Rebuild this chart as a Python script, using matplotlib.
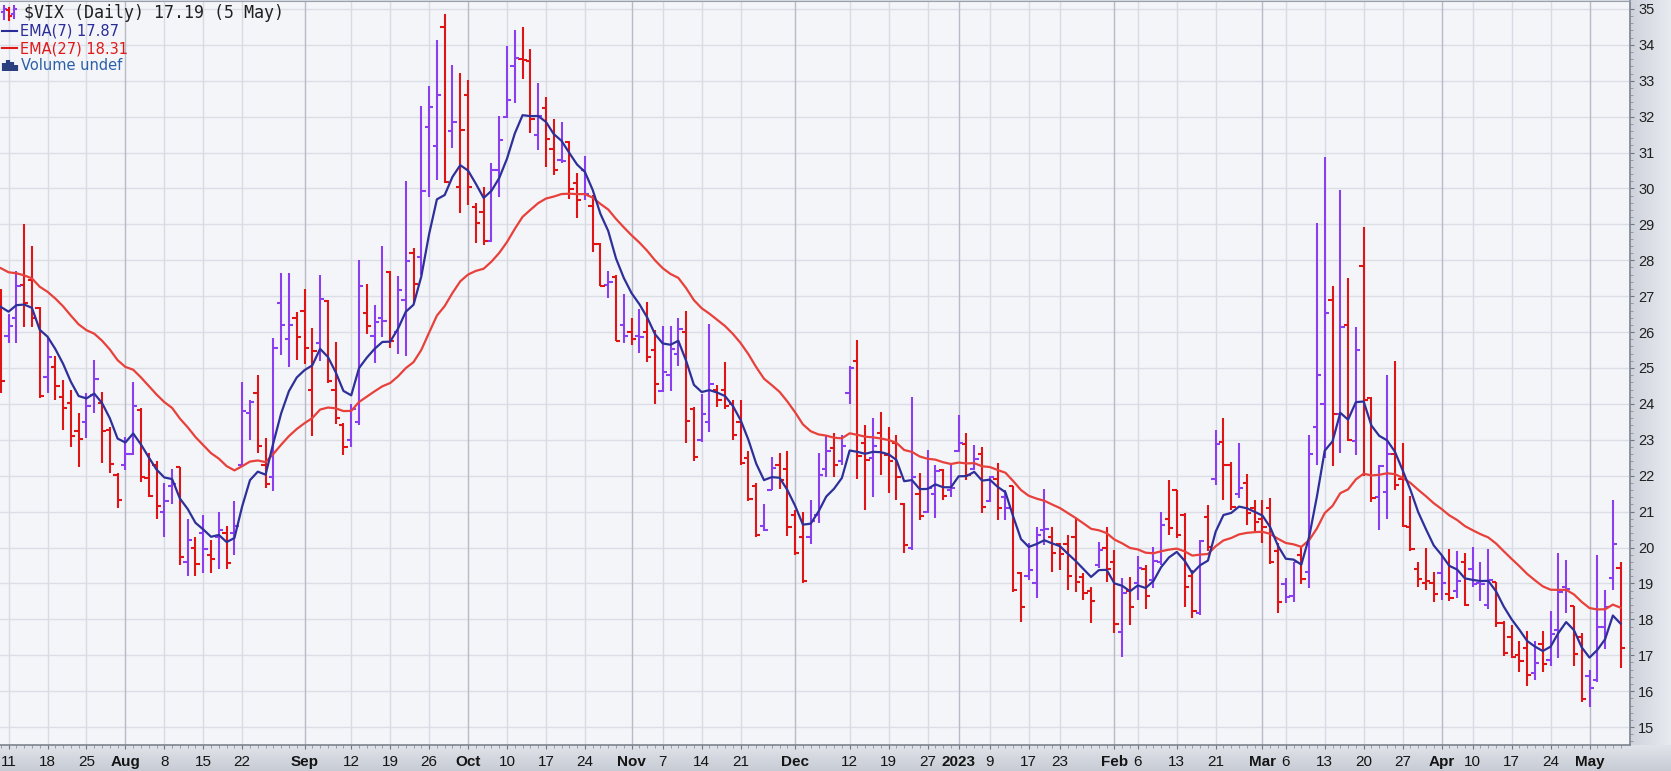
import matplotlib
matplotlib.use('Agg')
import matplotlib.pyplot as plt
import numpy as np
import pandas as pd
from matplotlib.lines import Line2D

# trading days 8 Jul 2022 .. 5 May 2023 (NYSE holidays removed)
holidays = ['2022-09-05', '2022-11-24', '2022-12-26', '2023-01-02',
            '2023-01-16', '2023-02-20', '2023-04-07']
dates = pd.bdate_range('2022-07-08', '2023-05-05')
dates = dates[~dates.isin(pd.to_datetime(holidays))]

prev_close = 26.1  # close before the first bar (sets its colour)

open_ = [26.6, 25.9, 26.4, 27.3, 27.45, 26.66, 24.76, 25.04, 24.2, 24.02,
         23.25, 23.5, 24.25, 24.02, 23.27, 22.02, 22.3, 22.6, 23.83, 21.93,
         22.3, 21.0, 21.7, 22.25, 19.6, 20.0, 20.4, 19.8, 20.3, 20.4,
         20.4, 22.3, 23.74, 24.31, 22.3, 21.97, 26.8, 25.8, 26.4, 26.6,
         24.4, 25.7, 26.86, 24.4, 23.4, 23.0, 23.5, 26.52, 25.9, 26.4,
         27.67, 26.0, 26.9, 28.2, 28.1, 31.72, 31.17, 34.5, 31.6, 30.05,
         32.6, 29.48, 29.33, 28.55, 30.5, 32.0, 33.4, 33.6, 33.56, 31.5,
         32.23, 31.09, 30.8, 31.28, 30.14, 30.5, 29.5, 28.44, 27.3, 27.54,
         26.2, 26.0, 25.9, 26.01, 25.5, 24.37, 24.8, 25.38, 26.0, 23.85,
         23.0, 23.5, 24.4, 24.4, 24.0, 23.5, 22.5, 21.7, 20.6, 21.6,
         22.3, 22.2, 20.9, 20.3, 20.3, 20.9, 22.2, 22.76, 22.4, 24.3,
         25.2, 22.9, 22.5, 23.2, 22.58, 22.9, 21.2, 20.0, 21.5, 21.0,
         21.5, 22.17, 21.6, 22.7, 22.88, 22.2, 22.6, 21.3, 21.9, 21.4,
         21.7, 19.28, 19.2, 19.0, 20.5, 20.3, 20.1, 20.1, 20.3, 19.19,
         18.8, 19.5, 20.0, 19.6, 17.66, 18.8, 19.0, 19.4, 19.09, 19.6,
         20.8, 21.6, 20.9, 19.2, 18.17, 20.86, 21.9, 22.95, 22.3, 21.5,
         21.8, 21.1, 20.8, 21.1, 19.9, 18.98, 18.66, 19.8, 19.31, 23.35,
         24.0, 26.9, 23.73, 26.19, 22.97, 27.83, 24.17, 21.4, 21.55, 22.6,
         21.9, 20.57, 19.4, 19.0, 19.0, 19.3, 18.7, 18.8, 19.6, 19.4,
         19.0, 18.4, 19.04, 17.9, 17.5, 17.0, 17.2, 16.5, 17.3, 16.86,
         17.7, 18.9, 18.38, 17.5, 16.42, 16.31, 17.78, 19.15, 19.42]
high = [27.2, 26.5, 27.7, 29.0, 28.4, 26.7, 25.87, 25.32, 24.67, 24.39,
        23.74, 24.3, 25.22, 24.34, 23.37, 22.07, 23.09, 24.62, 23.88, 22.62,
        22.4, 21.8, 22.2, 22.25, 20.8, 20.3, 20.9, 20.2, 21.0, 20.6,
        21.3, 24.6, 24.11, 24.8, 23.04, 25.83, 27.64, 27.64, 26.57, 27.2,
        26.1, 27.6, 26.9, 25.71, 23.47, 24.0, 28.0, 27.33, 26.76, 28.4,
        27.71, 27.57, 30.2, 28.33, 32.3, 32.86, 34.12, 34.87, 33.44, 33.22,
        33.02, 29.59, 30.05, 30.7, 32.02, 33.97, 34.41, 34.5, 33.88, 32.95,
        32.56, 31.93, 31.86, 31.31, 30.42, 30.89, 29.81, 28.49, 27.7, 27.59,
        27.07, 26.38, 26.64, 26.85, 26.06, 26.17, 26.17, 26.38, 26.6, 23.9,
        24.27, 26.22, 24.53, 25.17, 24.11, 24.11, 22.7, 21.8, 21.21, 22.53,
        22.64, 22.7, 21.05, 21.0, 21.32, 22.64, 23.1, 23.18, 23.13, 25.05,
        25.78, 23.41, 23.6, 23.78, 23.37, 23.13, 21.25, 24.2, 22.07, 22.72,
        22.3, 22.2, 22.34, 23.69, 23.18, 22.85, 22.81, 21.98, 22.34, 21.6,
        21.71, 19.33, 20.12, 20.58, 21.62, 20.58, 20.12, 20.35, 20.81, 19.28,
        18.91, 20.16, 20.58, 19.93, 19.14, 19.19, 19.75, 19.51, 20.02, 20.99,
        21.88, 21.6, 20.95, 19.37, 20.2, 21.18, 23.27, 23.6, 22.39, 22.91,
        22.04, 21.33, 21.33, 21.39, 20.13, 19.15, 19.6, 20.02, 23.13, 29.03,
        30.88, 27.28, 29.96, 27.5, 26.14, 28.92, 24.2, 22.31, 24.8, 25.2,
        22.91, 21.44, 19.6, 20.0, 19.31, 19.8, 19.97, 19.9, 19.86, 20.02,
        19.6, 19.97, 19.04, 17.95, 17.84, 17.4, 17.67, 17.4, 17.67, 18.22,
        19.86, 19.64, 18.38, 17.62, 16.58, 19.8, 18.82, 21.33, 19.59]
low = [24.3, 25.7, 25.7, 26.15, 26.15, 24.16, 24.3, 24.11, 23.27, 22.81,
       22.25, 23.04, 23.74, 22.35, 22.07, 21.1, 22.16, 22.58, 21.83, 21.4,
       20.8, 20.3, 21.2, 19.5, 19.2, 19.2, 19.3, 19.3, 19.4, 19.4,
       19.8, 22.3, 23.0, 22.62, 21.65, 21.56, 25.36, 25.04, 25.22, 25.1,
       23.1, 25.2, 24.57, 23.43, 22.57, 22.8, 23.4, 25.95, 25.14, 25.85,
       25.57, 25.38, 25.33, 26.8, 27.6, 29.77, 30.24, 30.16, 31.12, 29.31,
       29.54, 28.47, 28.43, 28.52, 29.77, 31.97, 32.37, 33.04, 31.54, 31.07,
       30.61, 30.38, 30.7, 29.7, 29.17, 29.68, 28.23, 27.28, 26.96, 25.75,
       25.69, 25.64, 25.43, 25.17, 24.0, 24.32, 24.37, 25.06, 22.9, 22.42,
       22.95, 23.21, 23.9, 23.85, 23.0, 22.3, 21.3, 20.3, 20.45, 21.6,
       21.63, 20.31, 19.8, 19.0, 20.1, 20.69, 21.95, 21.97, 22.3, 24.0,
       21.9, 21.04, 21.4, 22.02, 21.51, 21.32, 19.84, 19.93, 20.77, 20.95,
       20.81, 21.32, 21.4, 22.67, 21.88, 22.16, 20.95, 21.28, 20.77, 20.77,
       18.77, 17.93, 19.09, 18.58, 20.07, 19.33, 19.37, 18.82, 18.77, 18.54,
       17.89, 19.42, 19.05, 17.61, 16.96, 17.84, 18.54, 18.3, 18.86, 19.51,
       20.35, 20.26, 18.35, 18.03, 18.12, 19.9, 21.74, 21.32, 21.04, 21.39,
       20.62, 20.46, 20.13, 19.53, 18.17, 18.45, 18.49, 18.98, 18.88, 22.3,
       22.5, 22.26, 22.64, 22.97, 22.59, 22.0, 21.28, 20.5, 20.8, 21.6,
       20.57, 19.91, 18.9, 18.82, 18.49, 18.55, 18.5, 18.6, 18.38, 18.9,
       18.5, 18.28, 17.78, 16.97, 16.91, 16.53, 16.15, 16.31, 16.53, 16.69,
       16.91, 18.17, 16.69, 15.71, 15.55, 16.26, 17.18, 18.82, 16.64]
close = [24.64, 26.17, 27.29, 26.82, 26.40, 24.23, 25.30, 24.50, 23.88, 23.11,
         23.03, 23.95, 24.69, 23.24, 22.33, 21.33, 22.6, 23.93, 21.95, 21.44,
         21.15, 21.29, 21.77, 19.74, 20.20, 19.53, 19.95, 19.69, 20.50, 19.56,
         20.60, 23.80, 24.06, 22.82, 21.78, 25.56, 26.21, 26.21, 25.87, 25.56,
         25.47, 26.91, 24.64, 23.61, 22.79, 23.87, 27.27, 26.16, 26.27, 26.30,
         25.76, 27.16, 27.99, 27.35, 29.92, 32.26, 32.60, 30.18, 31.84, 31.62,
         30.05, 29.03, 28.55, 30.52, 31.36, 32.45, 33.63, 33.57, 31.94, 32.02,
         31.37, 30.50, 30.76, 29.98, 29.69, 29.85, 28.46, 27.28, 27.39, 25.75,
         25.88, 25.81, 25.86, 25.30, 24.55, 24.9, 25.54, 26.09, 23.53, 22.52,
         23.73, 24.54, 24.11, 23.93, 23.12, 22.36, 21.35, 20.35, 20.50, 22.21,
         21.89, 20.58, 19.84, 19.06, 20.75, 22.01, 22.68, 22.29, 22.83, 25.00,
         22.55, 22.45, 22.83, 22.62, 22.42, 21.97, 20.07, 21.97, 20.87, 21.65,
         22.14, 21.44, 21.67, 22.90, 22.01, 22.46, 21.13, 21.97, 21.09, 21.09,
         18.83, 18.35, 19.36, 20.34, 20.52, 19.85, 19.81, 19.20, 19.03, 18.73,
         18.51, 19.94, 19.40, 17.87, 18.73, 18.33, 19.43, 18.66, 19.63, 20.63,
         20.53, 20.34, 18.91, 18.23, 20.17, 20.02, 22.87, 22.29, 21.14, 21.67,
         20.95, 20.70, 20.58, 19.59, 18.49, 18.61, 19.59, 19.11, 22.61, 24.80,
         26.52, 23.73, 26.14, 22.99, 25.51, 24.12, 21.38, 22.26, 22.61, 21.74,
         20.60, 19.97, 19.12, 19.08, 18.70, 19.00, 18.58, 19.08, 18.40, 18.97,
         18.97, 19.09, 17.9, 17.07, 16.95, 16.83, 16.46, 16.77, 16.75, 17.6,
         18.76, 18.84, 17.03, 15.78, 16.08, 17.78, 18.34, 20.09, 17.19]

# EMA values at the first bar
ema7_start = 26.7
ema27_start = 27.78

tick_dates = ['2022-07-11', '2022-07-18', '2022-07-25', '2022-08-01', '2022-08-08',
              '2022-08-15', '2022-08-22', '2022-09-01', '2022-09-12', '2022-09-19',
              '2022-09-26', '2022-10-03', '2022-10-10', '2022-10-17', '2022-10-24',
              '2022-11-01', '2022-11-07', '2022-11-14', '2022-11-21', '2022-12-01',
              '2022-12-12', '2022-12-19', '2022-12-27', '2023-01-03', '2023-01-09',
              '2023-01-17', '2023-01-23', '2023-02-01', '2023-02-06', '2023-02-13',
              '2023-02-21', '2023-03-01', '2023-03-06', '2023-03-13', '2023-03-20',
              '2023-03-27', '2023-04-03', '2023-04-10', '2023-04-17', '2023-04-24',
              '2023-05-01']
tick_labels = ['11', '18', '25', 'Aug', '8', '15', '22', 'Sep', '12', '19',
               '26', 'Oct', '10', '17', '24', 'Nov', '7', '14', '21', 'Dec',
               '12', '19', '27', '2023', '9', '17', '23', 'Feb', '6', '13',
               '21', 'Mar', '6', '13', '20', '27', 'Apr', '10', '17', '24',
               'May']
bold_labels = ['Aug', 'Sep', 'Oct', 'Nov', 'Dec', '2023', 'Feb', 'Mar', 'Apr', 'May']

legend_lines = ['$VIX (Daily) 17.19 (5 May)', 'EMA(7) 17.87', 'EMA(27) 18.31', 'Volume undef']

UP = '#8a3ef0'
DOWN = '#e01414'


def ema(values, n, start):
    a = 2.0 / (n + 1)
    out = [start]
    for v in values[1:]:
        out.append(a * v + (1 - a) * out[-1])
    return np.array(out)


o = np.array(open_)
h = np.array(high)
l = np.array(low)
c = np.array(close)
x = np.arange(len(c))
prev = np.r_[prev_close, c[:-1]]
cols = [UP if ci >= pi else DOWN for ci, pi in zip(c, prev)]

W, H = 1671, 771
fig = plt.figure(figsize=(W / 100, H / 100), dpi=100)

# background gradients for the axis bands
bg = fig.add_axes([0, 0, 1, 1], zorder=-10)
img = np.ones((H, W, 3)) * np.array([0.84, 0.855, 0.89])
top_c = np.array([0.88, 0.89, 0.915])
bot_c = np.array([0.78, 0.795, 0.83])
for r in range(745, H):
    t = (r - 745) / (H - 745)
    img[r, :] = top_c * (1 - t) + bot_c * t
left_c = np.array([0.81, 0.825, 0.86])
right_c = np.array([0.91, 0.92, 0.94])
for col in range(1630, W):
    t = (col - 1630) / (W - 1630)
    img[:745, col] = left_c * (1 - t) + right_c * t
bg.imshow(img, aspect='auto', extent=[0, 1, 0, 1])
bg.axis('off')

ax = fig.add_axes([0, 1 - 745 / H, 1630 / W, 744 / H])
ax.set_facecolor('#f4f5f9')

tick_pos = [int(np.where(dates == pd.Timestamp(d))[0][0]) for d in tick_dates]

# grid
for yv in range(15, 36):
    ax.axhline(yv, color='#dcdee6', lw=1.0, zorder=0)
for p, lab in zip(tick_pos, tick_labels):
    ax.axvline(p, color='#b7bbc5' if lab in bold_labels else '#d8dbe3', lw=1.0, zorder=0)

# OHLC bars
ax.vlines(x, l, h, colors=cols, lw=1.5, zorder=2)
ax.hlines(o, x - 0.55, x, colors=cols, lw=1.5, zorder=2)
ax.hlines(c, x, x + 0.55, colors=cols, lw=1.5, zorder=2)

# moving averages
ax.plot(x, ema(c, 27, ema27_start), color='#e8403a', lw=1.6, zorder=3)
ax.plot(x, ema(c, 7, ema7_start), color='#2e309a', lw=1.6, zorder=4)

ax.set_xlim(-0.1, 209.2)
ax.set_ylim(14.5, 35.22)

ax.yaxis.tick_right()
ax.set_yticks(range(15, 36))
ax.set_yticks(np.arange(14.6, 35.2, 0.2), minor=True)
ax.tick_params(axis='y', which='major', length=3, width=0.8, color='#70757f', pad=3,
               labelsize=10.5, labelcolor='#202020')
ax.tick_params(axis='y', which='minor', length=2, width=0.6, color='#8a8f99')
for t in ax.get_yticklabels():
    t.set_fontfamily('Liberation Sans')

ax.set_xticks(tick_pos)
ax.set_xticklabels(tick_labels)
ax.set_xticks(x, minor=True)
ax.tick_params(axis='x', which='major', length=3, width=0.8, color='#70757f', pad=4,
               labelsize=11, labelcolor='#151515')
ax.tick_params(axis='x', which='minor', length=2, width=0.6, color='#8a8f99')
for t in ax.get_xticklabels():
    t.set_fontfamily('Liberation Sans')
    if t.get_text() in bold_labels:
        t.set_fontweight('bold')

ax.spines['left'].set_visible(False)
ax.spines['top'].set_color('#9aa0aa')
ax.spines['right'].set_color('#7d838e')
ax.spines['bottom'].set_color('#7d838e')
ax.spines['right'].set_linewidth(1.2)
ax.spines['bottom'].set_linewidth(1.2)


def fx(px):
    return px / W


def fy(py):
    return 1 - py / H


# legend block in the top-left corner
fig.text(fx(24), fy(13), legend_lines[0], fontsize=12, color='#202020',
         family='DejaVu Sans Mono', va='center', ha='left')
fig.text(fx(20), fy(31), legend_lines[1], fontsize=10.5, color='#2a2c98',
         family='DejaVu Sans', va='center', ha='left')
fig.text(fx(20), fy(49), legend_lines[2], fontsize=10.5, color='#e01818',
         family='DejaVu Sans', va='center', ha='left')
fig.text(fx(21), fy(66), legend_lines[3], fontsize=10.5, color='#2b5fa8',
         family='DejaVu Sans', va='center', ha='left')

icons = [
    ([4, 4], [6, 19], UP), ([2, 4], [12, 12], UP), ([4, 6], [9, 9], UP),
    ([9, 9], [8, 20], DOWN), ([7, 9], [10, 10], DOWN), ([9, 11], [16, 16], DOWN),
    ([14, 14], [6, 18], UP), ([12, 14], [14, 14], UP), ([14, 16], [9, 9], UP),
    ([2, 17], [31, 31], '#2a2c98'), ([2, 17], [48, 48], '#e01818'),
]
for xs, ys, col in icons:
    fig.add_artist(Line2D([fx(v) for v in xs], [fy(v) for v in ys], color=col, lw=1.5))
for bx, top in [(4, 63), (8, 60), (12, 62), (16, 65)]:
    fig.add_artist(Line2D([fx(bx), fx(bx)], [fy(71), fy(top)], color='#2a3f80', lw=3,
                          solid_capstyle='butt'))

fig.savefig('out.png', dpi=100, facecolor=fig.get_facecolor())
